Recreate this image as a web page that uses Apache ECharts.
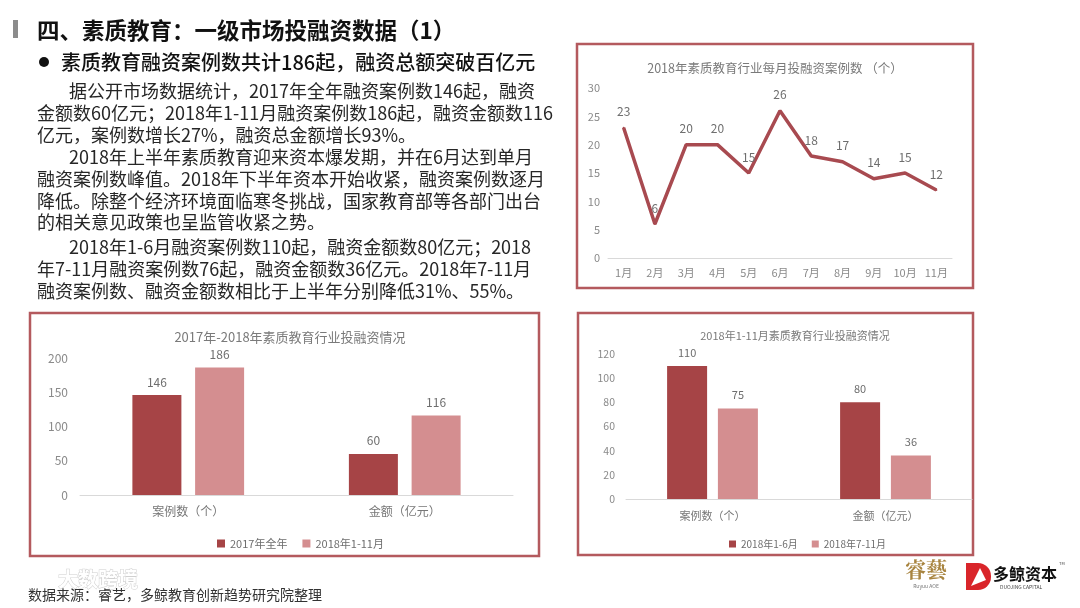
<!DOCTYPE html>
<html>
<head>
<meta charset="utf-8">
<style>
html,body{margin:0;padding:0;background:#fff;}
#main{width:1080px;height:608px;}
</style>
<script src="https://cdn.jsdelivr.net/npm/echarts@6/dist/echarts.min.js"></script>
</head>
<body>
<div id="main"></div>
<script>
// ---- data ----
const months = ['1月','2月','3月','4月','5月','6月','7月','8月','9月','10月','11月'];
const monthlyDeals = [23, 6, 20, 20, 15, 26, 18, 17, 14, 15, 12];

const yearCats = ['案例数（个）', '金额（亿元）'];
const year2017 = [146, 60];
const year2018 = [186, 116];
const yearNames = ['2017年全年', '2018年1-11月'];

const halfCats = ['案例数（个）', '金额（亿元）'];
const firstHalf = [110, 80];
const secondHalf = [75, 36];
const halfNames = ['2018年1-6月', '2018年7-11月'];

const pageTitle = '四、素质教育：一级市场投融资数据（1）';
const subTitle = '素质教育融资案例数共计186起，融资总额突破百亿元';
const bodyLines = [
  ['据公开市场数据统计，2017年全年融资案例数146起，融资', true],
  ['金额数60亿元；2018年1-11月融资案例数186起，融资金额数116', false],
  ['亿元，案例数增长27%，融资总金额增长93%。', false],
  ['2018年上半年素质教育迎来资本爆发期，并在6月达到单月', true],
  ['融资案例数峰值。2018年下半年资本开始收紧，融资案例数逐月', false],
  ['降低。除整个经济环境面临寒冬挑战，国家教育部等各部门出台', false],
  ['的相关意见政策也呈监管收紧之势。', false],
  ['2018年1-6月融资案例数110起，融资金额数80亿元；2018', true],
  ['年7-11月融资案例数76起，融资金额数36亿元。2018年7-11月', false],
  ['融资案例数、融资金额数相比于上半年分别降低31%、55%。', false]
];
const bodyY = [91, 113, 135, 157, 179, 201, 222, 247, 269, 291];
const sourceText = '数据来源：睿艺，多鲸教育创新趋势研究院整理';

// ---- styles ----
const FONT = '"Noto Sans CJK SC", "Noto Sans", sans-serif';
const DARK = '#a64446';
const LIGHT = '#d48e90';
const LINE = '#a84a50';
const BORDER = '#b45a5e';

const chart = echarts.init(document.getElementById('main'));

const graphics = [];
// title bar
graphics.push({type:'rect', shape:{x:13, y:20, width:5, height:18}, style:{fill:'#8c8c8c'}});
graphics.push({type:'text', style:{text:pageTitle, x:37, y:30, font:'bold 22.5px ' + FONT, fill:'#111', verticalAlign:'middle'}});
graphics.push({type:'circle', shape:{cx:44, cy:62, r:5}, style:{fill:'#111'}});
graphics.push({type:'text', style:{text:subTitle, x:61, y:62, font:'500 20px ' + FONT, fill:'#111', verticalAlign:'middle'}});
bodyLines.forEach((l, i) => {
  graphics.push({type:'text', style:{text:l[0], x: l[1] ? 69 : 37, y: bodyY[i], font:'18px ' + FONT, fill:'#262626', verticalAlign:'middle'}});
});
// boxes
[[577, 44, 396, 244], [30, 313, 509, 243], [578, 313, 395, 242]].forEach(b => {
  graphics.push({type:'rect', shape:{x:b[0], y:b[1], width:b[2], height:b[3]}, style:{fill:'none', stroke:BORDER, lineWidth:2.5}});
});
// footer
graphics.push({type:'text', style:{text:'大数跨境', x:58, y:579, font:'bold 20px ' + FONT, fill:'#ffffff', stroke:'#d0d0d0', lineWidth:1, verticalAlign:'middle'}});
graphics.push({type:'text', style:{text:sourceText, x:28, y:595, font:'14px ' + FONT, fill:'#333', verticalAlign:'middle'}});
// logos
graphics.push({type:'text', style:{text:'睿藝', x:926, y:569, font:'bold 21px "Noto Serif CJK SC", "Noto Sans CJK TC", serif', fill:'#a8843f', align:'center', verticalAlign:'middle'}});
graphics.push({type:'text', style:{text:'Ruyuu AOE', x:926, y:586, font:'5px ' + FONT, fill:'#777', align:'center', verticalAlign:'middle'}});
graphics.push({type:'rect', shape:{x:966, y:563, width:25, height:27, r:[0, 13, 13, 0]}, style:{fill:'#d9252a'}});
graphics.push({type:'polygon', shape:{points:[[971, 586], [980, 568], [986, 580]]}, style:{fill:'#ffffff'}});
graphics.push({type:'text', style:{text:'多鲸资本', x:993, y:574, font:'bold 16px ' + FONT, fill:'#111', verticalAlign:'middle'}});
graphics.push({type:'text', style:{text:'DUOJING CAPITAL', x:1000, y:587, font:'5px ' + FONT, fill:'#444', verticalAlign:'middle'}});
graphics.push({type:'text', style:{text:'TM', x:1059, y:563, font:'4px ' + FONT, fill:'#444', verticalAlign:'middle'}});

const axisLabelStyle = {color:'#8a8a8a', fontFamily:FONT};

const option = {
  backgroundColor:'#ffffff',
  animation:false,
  textStyle:{fontFamily:FONT},
  title:[
    {text:'2018年素质教育行业每月投融资案例数 （个）', left:770, top:57, textAlign:'center', textStyle:{fontSize:12.5, fontWeight:'normal', color:'#7a7a7a', fontFamily:FONT}},
    {text:'2017年-2018年素质教育行业投融资情况', left:285, top:326, textAlign:'center', textStyle:{fontSize:13, fontWeight:'normal', color:'#7a7a7a', fontFamily:FONT}},
    {text:'2018年1-11月素质教育行业投融资情况', left:790, top:325, textAlign:'center', textStyle:{fontSize:11, fontWeight:'normal', color:'#7a7a7a', fontFamily:FONT}}
  ],
  legend:[
    {data:yearNames, left:212, top:533, itemWidth:8, itemHeight:8, itemGap:15, icon:'rect', textStyle:{fontSize:11, color:'#6e6e6e', fontFamily:FONT}},
    {data:halfNames, left:724, top:534, itemWidth:7, itemHeight:7, itemGap:14, icon:'rect', textStyle:{fontSize:10, color:'#6e6e6e', fontFamily:FONT}}
  ],
  grid:[
    {left:608, top:88, width:344, height:170},
    {left:80, top:358, width:433, height:137},
    {left:626, top:354, width:346, height:145}
  ],
  xAxis:[
    {type:'category', gridIndex:0, data:months, axisTick:{show:false}, axisLine:{lineStyle:{color:'#d9d9d9'}}, axisLabel:Object.assign({fontSize:11, margin:9}, axisLabelStyle)},
    {type:'category', gridIndex:1, data:yearCats, axisTick:{show:false}, axisLine:{lineStyle:{color:'#d9d9d9'}}, axisLabel:{fontSize:12, margin:10, color:'#777', fontFamily:FONT}},
    {type:'category', gridIndex:2, data:halfCats, axisTick:{show:false}, axisLine:{lineStyle:{color:'#d9d9d9'}}, axisLabel:{fontSize:11, margin:11, color:'#777', fontFamily:FONT}}
  ],
  yAxis:[
    {type:'value', gridIndex:0, min:0, max:30, interval:5, splitLine:{show:false}, axisLine:{show:false}, axisTick:{show:false}, axisLabel:Object.assign({fontSize:11, margin:8}, axisLabelStyle)},
    {type:'value', gridIndex:1, min:0, max:200, interval:50, splitLine:{show:false}, axisLine:{show:false}, axisTick:{show:false}, axisLabel:Object.assign({fontSize:12, margin:12}, axisLabelStyle)},
    {type:'value', gridIndex:2, min:0, max:120, interval:20, splitLine:{show:false}, axisLine:{show:false}, axisTick:{show:false}, axisLabel:Object.assign({fontSize:10.5, margin:11}, axisLabelStyle)}
  ],
  series:[
    {type:'line', xAxisIndex:0, yAxisIndex:0, data:monthlyDeals, symbol:'circle', symbolSize:2,
     itemStyle:{color:LINE}, lineStyle:{color:LINE, width:3.5},
     label:{show:true, position:'top', distance:9, fontSize:12, color:'#6e6e6e', fontFamily:FONT}},
    {type:'bar', name:yearNames[0], xAxisIndex:1, yAxisIndex:1, data:year2017, barWidth:49, barGap:'28%',
     itemStyle:{color:DARK}, label:{show:true, position:'top', distance:7, fontSize:12, color:'#6e6e6e', fontFamily:FONT}},
    {type:'bar', name:yearNames[1], xAxisIndex:1, yAxisIndex:1, data:year2018, barWidth:49, barGap:'28%',
     itemStyle:{color:LIGHT}, label:{show:true, position:'top', distance:7, fontSize:12, color:'#6e6e6e', fontFamily:FONT}},
    {type:'bar', name:halfNames[0], xAxisIndex:2, yAxisIndex:2, data:firstHalf, barWidth:40, barGap:'27%',
     itemStyle:{color:DARK}, label:{show:true, position:'top', distance:8, fontSize:11, color:'#6e6e6e', fontFamily:FONT}},
    {type:'bar', name:halfNames[1], xAxisIndex:2, yAxisIndex:2, data:secondHalf, barWidth:40, barGap:'27%',
     itemStyle:{color:LIGHT}, label:{show:true, position:'top', distance:8, fontSize:11, color:'#6e6e6e', fontFamily:FONT}}
  ],
  graphic:graphics
};
chart.setOption(option);
</script>
</body>
</html>
